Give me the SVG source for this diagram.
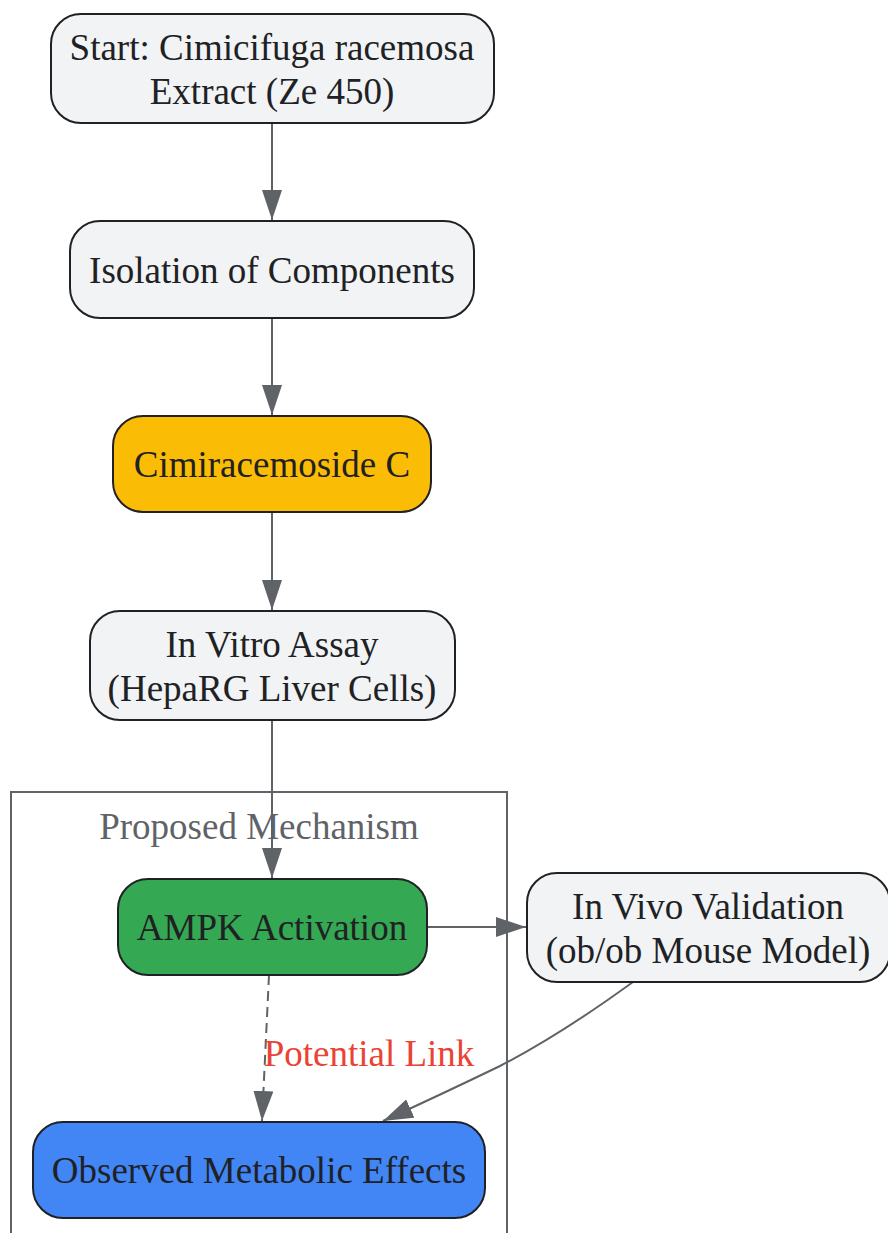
<svg xmlns="http://www.w3.org/2000/svg" width="888" height="1233" viewBox="0 0 888 1233">
<style>
.n{stroke:#202124;stroke-width:2}
.g{fill:#F1F3F4}
.t{font-family:"Liberation Serif",serif;font-size:37px;fill:#202124;text-anchor:middle}
.e{fill:none;stroke:#5F6368;stroke-width:2}
</style>
<defs>
<marker id="a" viewBox="0 0 30 20" refX="30" refY="10" markerWidth="30" markerHeight="20" markerUnits="userSpaceOnUse" orient="auto">
<path d="M0,0 L30,10 L0,20 Z" fill="#5F6368"/>
</marker>
</defs>
<rect width="888" height="1233" fill="#fff"/>
<g id="cluster">
<rect x="11" y="792" width="496" height="460" fill="none" stroke="#5F6368" stroke-width="2"/>
<text x="259" y="839" class="t" style="fill:#5F6368">Proposed Mechanism</text>
</g>
<g id="edges">
<path class="e" d="M272,123 V220" marker-end="url(#a)"/>
<path class="e" d="M272,318 V415" marker-end="url(#a)"/>
<path class="e" d="M272,512 V610" marker-end="url(#a)"/>
<path class="e" d="M272,720 V878" marker-end="url(#a)"/>
<path class="e" d="M427,927 H526" marker-end="url(#a)"/>
<path class="e" d="M269,975 L262,1121" stroke-dasharray="10,6" marker-end="url(#a)"/>
<path class="e" d="M633,982 Q560,1035 500,1066 Q440,1095 383,1121" marker-end="url(#a)"/>
<text x="369" y="1066" class="t" style="fill:#EA4335">Potential Link</text>
</g>
<g id="start">
<rect x="51" y="14" width="443" height="109" rx="30" class="n g"/>
<text x="272" y="60" class="t">Start: Cimicifuga racemosa</text>
<text x="272" y="104" class="t">Extract (Ze 450)</text>
</g>
<g id="isolation">
<rect x="70" y="221" width="404" height="97" rx="30" class="n g"/>
<text x="272" y="283" class="t">Isolation of Components</text>
</g>
<g id="cimiracemoside">
<rect x="113" y="416" width="318" height="96" rx="30" class="n" fill="#FBBC05"/>
<text x="272" y="477" class="t">Cimiracemoside C</text>
</g>
<g id="invitro">
<rect x="90" y="611" width="365" height="109" rx="30" class="n g"/>
<text x="272" y="657" class="t">In Vitro Assay</text>
<text x="272" y="701" class="t">(HepaRG Liver Cells)</text>
</g>
<g id="ampk">
<rect x="118" y="879" width="309" height="96" rx="30" class="n" fill="#34A853"/>
<text x="272" y="940" class="t">AMPK Activation</text>
</g>
<g id="invivo">
<rect x="527" y="873" width="363" height="109" rx="30" class="n g"/>
<text x="708" y="919" class="t">In Vivo Validation</text>
<text x="708" y="963" class="t">(ob/ob Mouse Model)</text>
</g>
<g id="observed">
<rect x="33" y="1122" width="452" height="96" rx="30" class="n" fill="#4285F4"/>
<text x="259" y="1183" class="t">Observed Metabolic Effects</text>
</g>
</svg>
